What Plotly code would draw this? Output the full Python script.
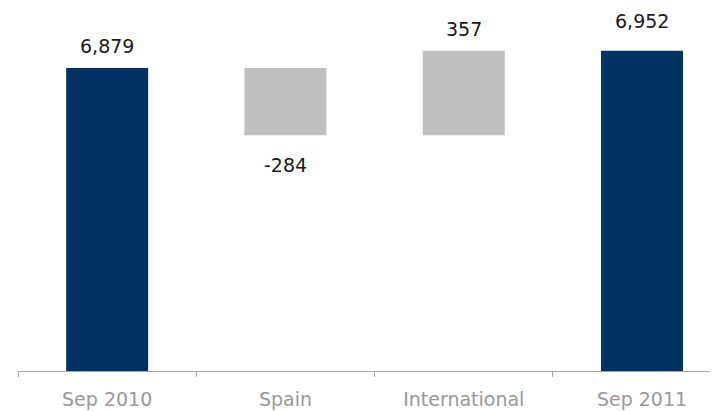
import plotly.graph_objects as go

categories = ["Sep 2010", "Spain", "International", "Sep 2011"]
values = [6879, -284, 357, 6952]
measures = ["absolute", "relative", "relative", "total"]
labels = ["6,879", "-284", "357", "6,952"]

NAVY = "#003263"
GRAY = "#BFBFBF"
FONT = "DejaVu Sans, Verdana, sans-serif"

fig = go.Figure()
fig.add_trace(go.Waterfall(
    x=categories,
    y=values,
    measure=measures,
    width=0.46,
    totals=dict(marker=dict(color=NAVY)),
    increasing=dict(marker=dict(color=GRAY)),
    decreasing=dict(marker=dict(color=GRAY)),
    connector=dict(visible=False),
    showlegend=False,
))

# label anchors computed from the data (bar ends)
running = 0
ends = []
for v, m in zip(values, measures):
    if m == "absolute":
        running = v
    elif m == "relative":
        running += v
    ends.append(running)

shifts = [22, -30, 22, 30]
for cat, end, lab, sh in zip(categories, ends, labels, shifts):
    fig.add_annotation(x=cat, y=end, text=lab, showarrow=False,
                       yanchor="middle", yshift=sh,
                       font=dict(family=FONT, size=19, color="#1a1a1a"))

fig.update_layout(
    width=710, height=403,
    margin=dict(l=10, r=0, t=0, b=40),
    paper_bgcolor="white", plot_bgcolor="white",
    xaxis=dict(range=[-0.5, 3.426], showline=True, linecolor="#A6A6A6", linewidth=1,
               ticks="outside", tickson="boundaries", ticklen=5, tickcolor="#A6A6A6",
               ticklabelstandoff=11,
               tickfont=dict(family=FONT, size=19, color="#999999"),
               showgrid=False, zeroline=False, fixedrange=True),
    yaxis=dict(range=[5600, 7132], visible=False, showgrid=False, zeroline=False),
)

fig.write_html("out.html")
